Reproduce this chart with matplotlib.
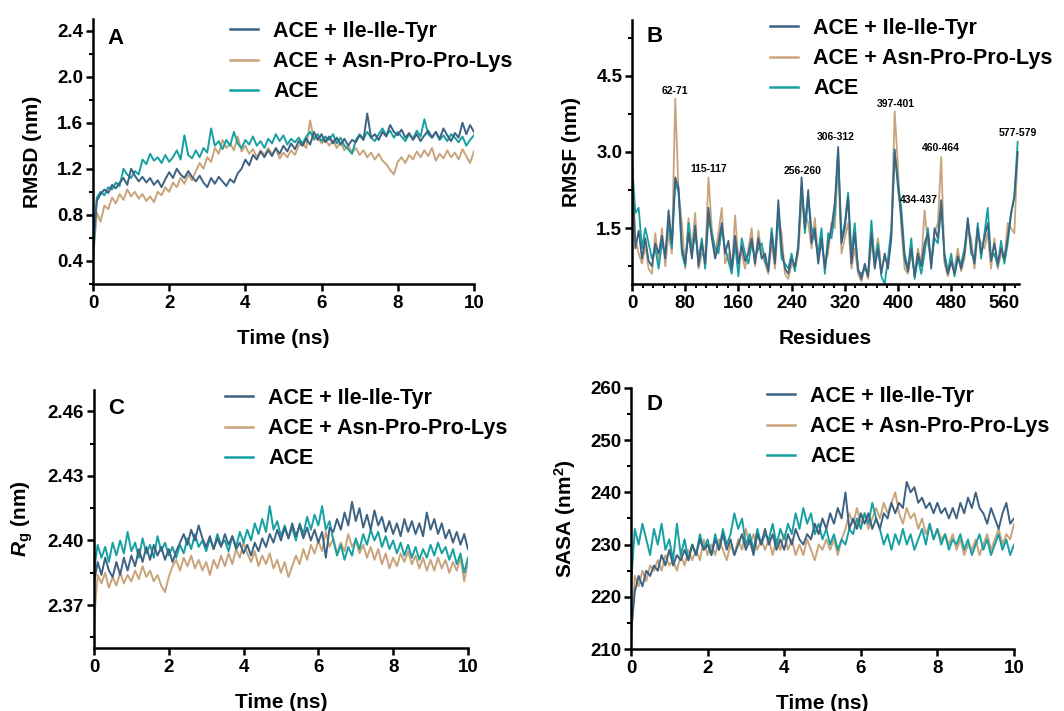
import numpy as np
import matplotlib
matplotlib.use('Agg')
import matplotlib.pyplot as plt
from matplotlib.ticker import MultipleLocator

plt.rcParams['font.family'] = ['Liberation Sans', 'DejaVu Sans']
plt.rcParams['font.weight'] = 'bold'
plt.rcParams['mathtext.fontset'] = 'custom'
plt.rcParams['mathtext.rm'] = 'Liberation Sans:bold'
plt.rcParams['mathtext.bf'] = 'Liberation Sans:bold'
plt.rcParams['mathtext.it'] = 'Liberation Sans:italic:bold'

# ---- data ----
series_names = ['ACE + Ile-Ile-Tyr', 'ACE + Asn-Pro-Pro-Lys', 'ACE']
series_colors = ['#3d6282', '#c9a47b', '#17a0a2']

time_ns = np.linspace(0, 10, 101)

rmsd_iit = [0.55, 0.92, 0.98, 1.02, 0.99, 1.06, 1.03, 1.08, 1.12, 1.06, 1.20,
            1.14, 1.09, 1.13, 1.08, 1.12, 1.06, 1.10, 1.04, 1.11, 1.17,
            1.12, 1.20, 1.15, 1.12, 1.18, 1.13, 1.09, 1.14, 1.08, 1.04,
            1.12, 1.07, 1.13, 1.09, 1.05, 1.11, 1.08, 1.16, 1.20, 1.28,
            1.23, 1.32, 1.28, 1.35, 1.30, 1.36, 1.31, 1.38, 1.33, 1.40,
            1.35, 1.42, 1.37, 1.44, 1.40, 1.46, 1.41, 1.52, 1.45, 1.50,
            1.43, 1.48, 1.42, 1.47, 1.41, 1.46, 1.40, 1.45, 1.43, 1.49,
            1.45, 1.68, 1.47, 1.50, 1.45, 1.52, 1.48, 1.58, 1.52, 1.49,
            1.54, 1.47, 1.51, 1.45, 1.50, 1.44, 1.49, 1.53, 1.47, 1.52,
            1.46, 1.55, 1.49, 1.44, 1.51, 1.47, 1.60, 1.50, 1.58, 1.52]
rmsd_npkl = [0.40, 0.82, 0.74, 0.88, 0.85, 0.95, 0.90, 0.98, 0.93, 1.02, 0.96,
             1.00, 0.94, 0.98, 0.92, 0.96, 0.91, 1.00, 0.97, 1.04, 1.00,
             1.08, 1.04, 1.12, 1.07, 1.15, 1.10, 1.18, 1.25, 1.20, 1.30,
             1.26, 1.38, 1.33, 1.45, 1.38, 1.42, 1.36, 1.48, 1.35, 1.40,
             1.33, 1.37, 1.30, 1.36, 1.32, 1.38, 1.33, 1.37, 1.29, 1.34,
             1.30, 1.36, 1.32, 1.40, 1.42, 1.38, 1.62, 1.45, 1.48, 1.42,
             1.46, 1.40, 1.45, 1.38, 1.43, 1.36, 1.40, 1.34, 1.38, 1.32,
             1.36, 1.30, 1.34, 1.28, 1.33, 1.27, 1.24, 1.19, 1.15, 1.26,
             1.30, 1.25, 1.32, 1.28, 1.35, 1.30, 1.36, 1.31, 1.38, 1.27,
             1.33, 1.29, 1.36, 1.30, 1.34, 1.28, 1.37, 1.31, 1.25, 1.35]
rmsd_ace = [0.42, 0.95, 1.00, 0.97, 1.04, 1.02, 1.08, 1.05, 1.20, 1.15, 1.12,
            1.18, 1.15, 1.28, 1.24, 1.33, 1.27, 1.30, 1.25, 1.32, 1.26,
            1.30, 1.36, 1.28, 1.49, 1.32, 1.29, 1.36, 1.30, 1.38, 1.34,
            1.55, 1.40, 1.44, 1.37, 1.45, 1.40, 1.52, 1.42, 1.38, 1.45,
            1.41, 1.48, 1.40, 1.44, 1.38, 1.46, 1.42, 1.50, 1.44, 1.49,
            1.41, 1.46, 1.43, 1.47, 1.42, 1.48, 1.52, 1.46, 1.50, 1.44,
            1.48, 1.45, 1.50, 1.42, 1.47, 1.40, 1.37, 1.33, 1.45, 1.50,
            1.46, 1.52, 1.47, 1.44, 1.50, 1.55, 1.49, 1.53, 1.47, 1.52,
            1.48, 1.44, 1.50, 1.46, 1.53, 1.48, 1.63, 1.50, 1.47, 1.52,
            1.45, 1.49, 1.44, 1.50, 1.47, 1.43, 1.48, 1.40, 1.45, 1.49]

residues = np.arange(0, 581, 5)
rmsf_iit = [2.70, 1.10, 1.45, 0.90, 1.30, 0.85, 0.75, 1.20, 1.00, 1.35, 0.90, 1.85, 1.20,
            2.50, 2.30, 1.10, 0.80, 1.40, 0.90, 1.55, 0.75, 1.20, 0.80, 1.90, 1.30,
            0.90, 1.20, 1.60, 1.00, 1.25, 0.70, 1.35, 0.80, 1.15, 0.85, 1.00, 1.30,
            0.80, 1.30, 0.90, 1.00, 0.65, 1.40, 0.80, 2.05, 1.10, 0.70, 0.60, 0.90,
            0.75, 1.10, 2.50, 1.50, 2.25, 1.20, 1.50, 0.80, 1.30, 0.70, 1.20, 1.50,
            2.00, 3.10, 1.20, 1.50, 2.10, 0.80, 1.40, 0.70, 0.50, 0.80, 0.55, 1.40,
            0.70, 1.10, 0.60, 1.00, 0.70, 1.30, 3.05, 2.30, 1.70, 0.90, 0.65, 1.10,
            0.55, 1.00, 0.75, 1.20, 1.40, 0.70, 1.50, 1.30, 2.05, 0.90, 0.60, 0.85,
            0.60, 0.95, 0.70, 1.00, 1.70, 1.10, 0.80, 1.50, 1.00, 1.30, 1.60, 0.85,
            1.20, 0.80, 1.10, 0.90, 1.30, 1.80, 2.10, 3.00]
rmsf_npkl = [2.90, 1.30, 1.00, 0.80, 1.15, 0.70, 0.60, 1.40, 0.80, 1.50, 0.75, 1.40, 1.00,
             4.05, 2.20, 1.60, 0.70, 1.70, 1.10, 1.80, 0.70, 1.00, 0.90, 2.50, 1.50,
             1.00, 1.40, 1.90, 0.80, 1.00, 0.65, 1.75, 0.90, 1.00, 0.70, 1.10, 1.50,
             0.75, 1.45, 1.00, 0.80, 0.60, 1.20, 0.70, 1.70, 1.40, 0.60, 0.50, 0.80,
             0.70, 1.00, 2.00, 1.80, 1.60, 1.10, 1.70, 0.90, 1.20, 0.80, 1.00, 1.60,
             1.50, 2.80, 1.00, 1.30, 1.60, 0.70, 1.10, 0.60, 0.45, 0.75, 0.50, 1.20,
             0.90, 1.30, 0.70, 0.90, 0.80, 1.40, 3.80, 2.70, 1.50, 0.70, 0.60, 1.00,
             0.60, 1.10, 0.80, 1.85, 1.20, 0.90, 1.40, 1.60, 2.90, 0.80, 0.55, 0.80,
             0.70, 1.10, 0.65, 0.90, 1.50, 1.30, 0.70, 1.40, 1.20, 1.10, 1.40, 0.70,
             1.30, 0.70, 1.00, 0.85, 1.60, 1.50, 1.40, 3.00]
rmsf_ace = [2.80, 1.80, 1.90, 1.10, 1.50, 1.20, 0.90, 1.10, 0.70, 1.20, 1.00, 1.60, 1.10,
            2.40, 2.20, 1.00, 0.75, 1.60, 1.00, 1.40, 0.90, 1.30, 0.70, 1.70, 1.40,
            1.10, 1.00, 1.50, 1.10, 0.85, 0.60, 1.20, 0.55, 1.30, 1.00, 0.80, 1.20,
            0.90, 1.10, 1.20, 0.85, 0.70, 1.50, 0.90, 1.80, 0.90, 0.80, 0.70, 1.00,
            0.65, 1.20, 2.30, 1.40, 2.10, 1.50, 1.30, 1.00, 1.50, 0.60, 1.40, 1.30,
            1.80, 3.00, 1.30, 1.60, 2.20, 1.00, 1.60, 0.65, 0.60, 0.70, 0.60, 1.65,
            0.80, 1.20, 0.55, 0.40, 0.90, 1.50, 3.00, 2.40, 1.90, 1.00, 0.70, 1.30,
            0.50, 0.90, 0.60, 1.00, 1.50, 0.80, 1.30, 1.20, 1.90, 1.00, 0.65, 1.00,
            0.55, 0.90, 0.80, 1.10, 1.65, 1.00, 0.90, 1.60, 0.90, 1.40, 1.90, 0.90,
            1.00, 0.75, 1.25, 0.80, 1.20, 1.75, 2.15, 3.20]

peak_labels = ['62-71', '115-117', '256-260', '306-312', '397-401', '434-437', '460-464', '577-579']
peak_label_x = [65, 116, 256, 306, 397, 431, 465, 580]
peak_label_y = [4.21, 2.66, 2.63, 3.30, 3.94, 2.06, 3.08, 3.38]

rg_iit = [2.380, 2.390, 2.384, 2.392, 2.386, 2.383, 2.390, 2.384, 2.392, 2.386, 2.393,
          2.388, 2.396, 2.390, 2.397, 2.391, 2.398, 2.393, 2.397, 2.391, 2.396,
          2.390, 2.395, 2.399, 2.403, 2.398, 2.405, 2.400, 2.407, 2.401, 2.397,
          2.402, 2.396, 2.401, 2.397, 2.403, 2.398, 2.402, 2.396, 2.399, 2.394,
          2.398, 2.393, 2.399, 2.395, 2.401, 2.397, 2.403, 2.399, 2.405, 2.400,
          2.406, 2.401, 2.408, 2.402, 2.407, 2.401, 2.406, 2.400, 2.405, 2.399,
          2.404, 2.392, 2.406, 2.404, 2.410, 2.405, 2.413, 2.407, 2.418, 2.409,
          2.415, 2.406, 2.412, 2.405, 2.414, 2.407, 2.411, 2.404, 2.409, 2.403,
          2.408, 2.402, 2.410, 2.404, 2.409, 2.403, 2.408, 2.402, 2.413, 2.405,
          2.410, 2.403, 2.408, 2.401, 2.405, 2.399, 2.404, 2.398, 2.403, 2.396]
rg_npkl = [2.362, 2.384, 2.380, 2.385, 2.378, 2.383, 2.379, 2.385, 2.380, 2.384, 2.381,
           2.386, 2.382, 2.388, 2.383, 2.386, 2.381, 2.384, 2.379, 2.376, 2.383,
           2.388, 2.391, 2.386, 2.392, 2.388, 2.393, 2.387, 2.391, 2.386, 2.390,
           2.384, 2.391, 2.387, 2.393, 2.388, 2.394, 2.389, 2.396, 2.392, 2.399,
           2.394, 2.390, 2.395, 2.388, 2.393, 2.389, 2.394, 2.387, 2.391, 2.385,
           2.390, 2.383, 2.388, 2.393, 2.389, 2.396, 2.391, 2.398, 2.394, 2.400,
           2.395, 2.404, 2.397, 2.401, 2.394, 2.399, 2.395, 2.403, 2.397, 2.400,
           2.394, 2.398, 2.392, 2.397, 2.391, 2.396, 2.389, 2.394, 2.387, 2.392,
           2.388, 2.394, 2.390, 2.395, 2.389, 2.393, 2.387, 2.392, 2.386, 2.391,
           2.386, 2.392, 2.387, 2.391, 2.385, 2.390, 2.386, 2.392, 2.381, 2.390]
rg_ace = [2.386, 2.398, 2.392, 2.397, 2.390, 2.399, 2.393, 2.400, 2.394, 2.404, 2.395,
          2.399, 2.392, 2.401, 2.394, 2.398, 2.392, 2.402, 2.395, 2.399, 2.393,
          2.397, 2.392, 2.398, 2.394, 2.401, 2.396, 2.403, 2.397, 2.400, 2.395,
          2.401, 2.396, 2.403, 2.398, 2.400, 2.395, 2.402, 2.397, 2.404, 2.399,
          2.405, 2.400, 2.408, 2.403, 2.410, 2.404, 2.416, 2.405, 2.409, 2.402,
          2.407, 2.401, 2.406, 2.400, 2.408, 2.403, 2.411, 2.405, 2.412, 2.407,
          2.416, 2.405, 2.409, 2.400, 2.393, 2.398, 2.391, 2.397, 2.393, 2.401,
          2.396, 2.403, 2.398, 2.405, 2.400, 2.404, 2.397, 2.402, 2.396, 2.400,
          2.394, 2.399, 2.393, 2.398, 2.392, 2.397, 2.391, 2.396, 2.392, 2.398,
          2.393, 2.399, 2.394, 2.397, 2.391, 2.396, 2.389, 2.394, 2.385, 2.392]

sasa_iit = [213, 221, 224, 222, 225, 224, 226, 225, 228, 226, 229,
            226, 228, 227, 229, 227, 230, 228, 231, 229, 230,
            228, 231, 229, 232, 229, 231, 228, 230, 232, 229,
            231, 228, 232, 230, 233, 230, 232, 229, 231, 229,
            232, 230, 233, 231, 230, 232, 231, 234, 232, 235,
            233, 236, 234, 237, 235, 240, 233, 235, 233, 236,
            234, 236, 233, 235, 233, 236, 235, 238, 236, 238,
            237, 242, 240, 241, 238, 239, 237, 238, 236, 238,
            236, 237, 235, 237, 235, 238, 236, 239, 237, 240,
            237, 236, 234, 237, 235, 233, 236, 238, 234, 235]
sasa_npkl = [211, 224, 222, 225, 223, 226, 225, 227, 225, 228, 226,
             227, 225, 228, 226, 229, 227, 229, 227, 231, 228,
             230, 228, 231, 229, 227, 230, 228, 231, 229, 233,
             230, 232, 229, 231, 229, 231, 228, 231, 229, 232,
             229, 231, 228, 230, 228, 231, 229, 227, 230, 229,
             231, 229, 231, 228, 231, 233, 236, 234, 237, 234,
             236, 233, 235, 237, 235, 238, 236, 238, 240, 236,
             234, 237, 235, 236, 233, 235, 232, 234, 231, 233,
             231, 232, 230, 232, 229, 231, 228, 230, 229, 231,
             228, 230, 232, 229, 231, 233, 230, 232, 231, 234]
sasa_ace = [222, 233, 230, 234, 231, 228, 233, 230, 234, 229, 231,
            227, 234, 228, 231, 227, 230, 228, 232, 229, 231,
            228, 232, 229, 233, 230, 232, 236, 233, 235, 230,
            232, 229, 233, 230, 232, 231, 234, 230, 233, 231,
            234, 232, 236, 233, 237, 234, 236, 232, 234, 231,
            233, 230, 232, 229, 231, 230, 233, 232, 235, 233,
            236, 234, 238, 235, 233, 230, 232, 229, 232, 230,
            233, 230, 232, 229, 231, 233, 230, 234, 231, 233,
            230, 232, 229, 231, 230, 232, 229, 231, 228, 230,
            232, 229, 231, 228, 230, 232, 229, 231, 228, 230]

# ---- figure ----
fig = plt.figure(figsize=(10.64, 7.11), dpi=100)


def style_axis(ax, xlim, ylim, xmajor, ymajor, yminor, xminor=None):
	ax.set_xlim(*xlim)
	ax.set_ylim(*ylim)
	ax.xaxis.set_major_locator(MultipleLocator(xmajor))
	ax.yaxis.set_major_locator(MultipleLocator(ymajor))
	ax.yaxis.set_minor_locator(MultipleLocator(yminor))
	if xminor:
		ax.xaxis.set_minor_locator(MultipleLocator(xminor))
	for side in ['top', 'right']:
		ax.spines[side].set_visible(False)
	for side in ['left', 'bottom']:
		ax.spines[side].set_linewidth(1.8)
	ax.tick_params(which='major', length=5, width=1.8, direction='out')
	ax.tick_params(which='minor', length=3, width=1.5, direction='out')
	ax.tick_params(axis='x', labelsize=13.5, pad=3)
	ax.tick_params(axis='y', labelsize=13.5, pad=2)


def add_legend(ax, x_px, y_px):
	handles = ax.get_lines()
	order = [2, 0, 1]  # plotting order is tan, teal, dark -> legend dark, tan, teal
	leg = ax.legend([handles[i] for i in order], series_names, loc='upper left',
		bbox_to_anchor=(x_px / 1064, 1 - y_px / 711), bbox_transform=fig.transFigure,
		frameon=False, fontsize=15.5, handlelength=1.3, handletextpad=0.7,
		labelspacing=0.42, borderpad=0, borderaxespad=0)
	for line in leg.get_lines():
		line.set_linewidth(1.8)


def draw_series(ax, x, ys, lw=1.4):
	# tan first, then teal, dark on top
	ax.plot(x, ys[1], color=series_colors[1], lw=lw)
	ax.plot(x, ys[2], color=series_colors[2], lw=lw)
	ax.plot(x, ys[0], color=series_colors[0], lw=lw)


# A: RMSD
axA = fig.add_axes([0.0874, 0.6006, 0.358, 0.3727])
draw_series(axA, time_ns, [rmsd_iit, rmsd_npkl, rmsd_ace])
style_axis(axA, (0, 10), (0.2, 2.5), 2, 0.4, 0.2)
axA.set_xlabel('Time (ns)', fontsize=15, fontweight='bold', labelpad=12)
axA.set_ylabel('RMSD (nm)', fontsize=15, fontweight='bold', labelpad=11)
add_legend(axA, 230, 21)

# B: RMSF
axB = fig.add_axes([0.594, 0.6006, 0.3637, 0.3713])
draw_series(axB, residues, [rmsf_iit, rmsf_npkl, rmsf_ace], lw=1.3)
style_axis(axB, (0, 582), (0.4, 5.6), 80, 1.5, 0.75, xminor=16)
axB.set_xlabel('Residues', fontsize=15, fontweight='bold', labelpad=12)
axB.set_ylabel('RMSF (nm)', fontsize=15, fontweight='bold', labelpad=11)
for lab, px, py in zip(peak_labels, peak_label_x, peak_label_y):
	axB.text(px, py, lab, fontsize=7.5, fontweight='bold', ha='center', va='center')
add_legend(axB, 770, 18)

# C: Rg
axC = fig.add_axes([0.0883, 0.0886, 0.3515, 0.3629])
draw_series(axC, time_ns, [rg_iit, rg_npkl, rg_ace])
style_axis(axC, (0, 10), (2.35, 2.47), 2, 0.03, 0.015)
axC.set_xlabel('Time (ns)', fontsize=15, fontweight='bold', labelpad=12)
axC.set_ylabel(r'$\mathit{R}_\mathrm{g}$ (nm)', fontsize=15, fontweight='bold', labelpad=9)
add_legend(axC, 225, 388)

# D: SASA
axD = fig.add_axes([0.593, 0.0872, 0.36, 0.3671])
draw_series(axD, time_ns, [sasa_iit, sasa_npkl, sasa_ace])
style_axis(axD, (0, 10), (210, 260), 2, 10, 5)
axD.set_xlabel('Time (ns)', fontsize=15, fontweight='bold', labelpad=12)
axD.set_ylabel(r'SASA (nm$^\mathrm{2}$)', fontsize=15, fontweight='bold', labelpad=9)
add_legend(axD, 767, 386)

# panel letters
for letter, (lx, ly) in zip('ABCD', [(107, 38), (647, 37), (108, 408), (647, 405)]):
	fig.text(lx / 1064, 1 - ly / 711, letter, fontsize=16, fontweight='bold', ha='left', va='center')

fig.savefig('out.png', dpi=100)
